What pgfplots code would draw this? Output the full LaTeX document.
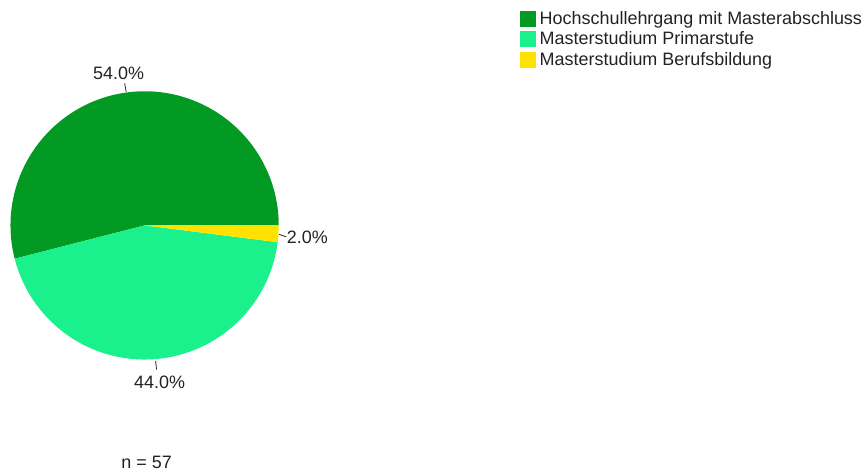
\documentclass[border=0pt]{standalone}
\usepackage{pgfplots}
\pgfplotsset{compat=1.18}
\usepackage{pgfplotstable}
\usepackage{fontspec}
\setmainfont{Liberation Sans}
\definecolor{cA}{RGB}{2,154,34}
\definecolor{cB}{RGB}{26,240,140}
\definecolor{cC}{RGB}{255,226,0}
\definecolor{txt}{RGB}{34,34,34}
\pgfplotstableread{
label value
Hochschullehrgang 54.0
Primarstufe 44.0
Berufsbildung 2.0
}\piedata
\begin{document}
\begin{tikzpicture}[font=\fontsize{18bp}{20bp}\selectfont, text=txt]
\pgfplotstablegetelem{0}{value}\of\piedata\let\va\pgfplotsretval
\pgfplotstablegetelem{1}{value}\of\piedata\let\vb\pgfplotsretval
\pgfplotstablegetelem{2}{value}\of\piedata\let\vc\pgfplotsretval
\pgfmathsetmacro{\aA}{\va*3.6}
\pgfmathsetmacro{\aB}{(\va+\vb)*3.6}
\pgfmathsetmacro{\aC}{(\va+\vb+\vc)*3.6}
\begin{axis}[
  scale only axis, width=866bp, height=475bp,
  xmin=0, xmax=866, ymin=0, ymax=475, y dir=reverse,
  hide axis, clip=false,
  legend cell align=left,
  legend style={at={(axis cs:521,10.5)}, anchor=north west, draw=none, fill=none,
    inner sep=0pt, row sep=3bp,
    nodes={inner sep=0pt, inner xsep=4bp, text height=13bp, text depth=4bp},
    font=\fontsize{18bp}{20bp}\selectfont},
  legend image code/.code={\fill[#1] (0bp,-7bp) rectangle (16bp,9bp);},
]
\path (axis cs:0,0) rectangle (axis cs:866,475);
\addplot[fill=cA, draw=none, domain=0:\aA, samples=120, variable=\t]
  ({145+134.5*cos(t)},{226-134.5*sin(t)}) -- (axis cs:145,226) -- cycle;
\addlegendentry{Hochschullehrgang mit Masterabschluss}
\addplot[fill=cB, draw=none, domain=\aA:\aB, samples=120, variable=\t]
  ({145+134.5*cos(t)},{226-134.5*sin(t)}) -- (axis cs:145,226) -- cycle;
\addlegendentry{Masterstudium Primarstufe}
\addplot[fill=cC, draw=none, domain=\aB:\aC, samples=10, variable=\t]
  ({145+134.5*cos(t)},{226-134.5*sin(t)}) -- (axis cs:145,226) -- cycle;
\addlegendentry{Masterstudium Berufsbildung}
% leader lines and labels
\draw[txt, line width=0.8bp] (axis cs:125,83.5) -- (axis cs:126.5,92);
\node[anchor=base] at (axis cs:119,80) {54.0\%};
\draw[txt, line width=0.8bp] (axis cs:280,235) -- (axis cs:287,237.5);
\node[anchor=base west, inner sep=0pt] at (axis cs:287.5,244) {2.0\%};
\draw[txt, line width=0.8bp] (axis cs:156,362) -- (axis cs:157,370.5);
\node[anchor=base] at (axis cs:160,390) {44.0\%};
\node[anchor=base] at (axis cs:147,470) {n = 57};
\end{axis}
\end{tikzpicture}
\end{document}
